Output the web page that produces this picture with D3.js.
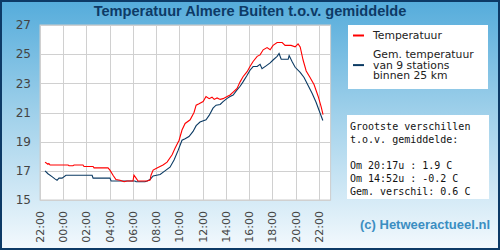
<!DOCTYPE html>
<html>
<head>
<meta charset="utf-8">
<script src="https://cdn.jsdelivr.net/npm/d3@7"></script>
<style>
  body { margin: 0; }
  svg { display: block; }
</style>
</head>
<body>
<div id="chart"></div>
<script>
"use strict";

// tijden (22:00 dag 1 -> 22:20 dag 2)
const redTimes = ["22:26","22:36","22:41","22:46","22:52","00:25","00:30","00:50","00:56","01:42","01:47","02:34","02:39","03:51","04:01","04:17","04:32","04:53","05:14","05:29","06:00","06:05","06:16","06:26","07:13","07:28","07:33","07:44","08:04","08:35","08:56","09:22","09:37","09:58","10:13","10:29","10:55","11:15","11:26","11:41","12:02","12:17","12:33","12:48","12:59","13:14","13:30","13:45","14:06","14:21","14:37","14:57","15:13","15:28","15:49","16:04","16:20","16:41","16:56","17:12","17:32","17:48","18:03","18:24","18:50","19:05","19:36","19:57","20:12","20:23","20:38","20:54","21:14","21:35","21:56","22:11","22:21"];
const redTemps = [17.6,17.5,17.45,17.5,17.4,17.4,17.35,17.35,17.4,17.4,17.3,17.3,17.2,17.2,17.05,16.7,16.4,16.35,16.25,16.3,16.3,16.7,16.5,16.3,16.3,16.37,16.7,17.05,17.2,17.4,17.6,18.1,18.55,19.1,19.8,20.25,20.5,21.0,21.5,21.6,21.75,22.1,21.95,22.05,21.9,22.0,21.9,21.95,22.1,22.2,22.4,22.65,23.1,23.45,23.8,24.15,24.5,24.85,24.95,25.3,25.45,25.3,25.6,25.8,25.8,25.6,25.6,25.5,25.7,25.5,24.6,23.85,23.4,22.9,22.1,21.4,20.85];

const blueTimes = ["22:26","22:41","23:02","23:17","23:28","23:38","23:54","00:14","02:29","02:34","04:01","04:07","06:10","06:16","07:02","07:13","07:28","07:44","08:20","08:45","09:11","09:32","09:53","10:13","10:29","10:49","11:10","11:26","11:46","12:17","12:33","12:53","13:09","13:30","13:45","14:06","14:21","14:37","14:57","15:13","15:28","15:49","16:04","16:20","16:41","16:56","17:06","17:27","17:48","18:03","18:24","18:34","18:45","19:21","19:26","19:41","19:57","20:23","20:43","21:04","21:25","21:45","22:06","22:20"];
const blueTemps = [17.0,16.8,16.6,16.45,16.35,16.5,16.5,16.7,16.7,16.5,16.5,16.3,16.3,16.25,16.25,16.3,16.4,16.65,16.75,17.0,17.25,17.75,18.4,19.1,19.2,19.35,19.7,20.1,20.35,20.5,20.8,21.3,21.5,21.55,21.75,21.97,22.1,22.2,22.55,22.8,23.1,23.55,23.9,24.15,24.15,24.3,24.0,24.2,24.4,24.6,24.85,25.05,24.65,24.65,24.9,24.5,24.1,23.75,23.4,22.85,22.3,21.7,20.95,20.45];

const yTicks = [15, 17, 19, 21, 23, 25, 27];

const titleText = "Temperatuur Almere Buiten t.o.v. gemiddelde";
const legendLabels = [["Temperatuur"], ["Gem. temperatuur", "van 9 stations", "binnen 25 km"]];
const statLines = ["Grootste verschillen", "t.o.v. gemiddelde:", "", "Om 20:17u : 1.9 C", "Om 14:52u : -0.2 C", "Gem. verschil: 0.6 C"];
const creditText = "(c) Hetweeractueel.nl";

const W = 500, H = 250;
const plot = {left: 40, right: 330.6, top: 25, bottom: 200};
const red = "#ff0000", navy = "#0b3a63";

// "HH:MM" -> Date, met overgang naar de volgende dag
const toDates = function(times) {
    let day = 1, prev = -1;
    return times.map(t => {
        let [h, m] = t.split(":").map(Number);
        let mins = h * 60 + m;
        if (prev >= 0 && mins < prev) day += 1;
        prev = mins;
        return new Date(Date.UTC(2024, 0, day, h, m));
    });
};

function _zip(a, b) { return a.map((d, i) => ({t: d, v: b[i]})); }
const redData = _zip(toDates(redTimes), redTemps);
const blueData = _zip(toDates(blueTimes), blueTemps);

const svg = d3.select('#chart').append('svg').attr('width', W).attr('height', H)
    .style('font-family', '"DejaVu Sans", sans-serif');

// achtergrond
const grad = svg.append('defs').append('linearGradient').attr('id', 'bg')
    .attr('x1', 0).attr('y1', 0).attr('x2', 0).attr('y2', 1);
grad.append('stop').attr('offset', '0%').attr('stop-color', '#55acdb');
grad.append('stop').attr('offset', '45%').attr('stop-color', '#9fd0ea');
grad.append('stop').attr('offset', '100%').attr('stop-color', '#f3f9fd');
svg.append('rect').attr('x', 1).attr('y', 1).attr('width', W - 2).attr('height', H - 2)
    .attr('fill', 'url(#bg)').attr('stroke', '#0d3a66').attr('stroke-width', 2);

svg.append('text').attr('x', 250).attr('y', 15.5).attr('text-anchor', 'middle')
    .style('font-family', '"Liberation Sans", Arial, sans-serif')
    .style('font-weight', 'bold').style('font-size', '14.6px').attr('fill', '#0d3a66')
    .text(titleText);

const x = d3.scaleUtc()
    .domain([new Date(Date.UTC(2024, 0, 1, 22)), new Date(Date.UTC(2024, 0, 2, 23))])
    .range([plot.left, plot.right]);
const y = d3.scaleLinear().domain([15, 27]).range([plot.bottom, plot.top]);

svg.append('rect').attr('x', plot.left).attr('y', plot.top)
    .attr('width', plot.right - plot.left).attr('height', plot.bottom - plot.top)
    .attr('fill', 'white').attr('stroke', '#cccccc');

const xTicks = x.ticks(d3.utcHour.every(2));
const grid = svg.append('g').attr('stroke', '#d0d0d0').attr('stroke-width', 1);
grid.selectAll('.vx').data(xTicks).enter().append('line')
    .attr('x1', d => Math.round(x(d)) + 0.5).attr('x2', d => Math.round(x(d)) + 0.5)
    .attr('y1', plot.top).attr('y2', plot.bottom);
grid.selectAll('.hy').data(yTicks).enter().append('line')
    .attr('x1', plot.left).attr('x2', plot.right)
    .attr('y1', d => Math.round(y(d)) + 0.5).attr('y2', d => Math.round(y(d)) + 0.5);

// as-labels
svg.append('g').selectAll('text').data(yTicks).enter().append('text')
    .attr('x', 31).attr('y', d => y(d)).attr('dy', '0.36em').attr('text-anchor', 'end')
    .style('font-size', '12px').attr('fill', '#444').text(d => d);

const fmt = d3.utcFormat('%H:%M');
svg.append('g').selectAll('text').data(xTicks).enter().append('text')
    .attr('transform', d => `translate(${x(d)},211) rotate(-90)`)
    .attr('dy', '0.36em').attr('text-anchor', 'end')
    .style('font-size', '11px').attr('fill', '#444').text(d => fmt(d));

// lijnen
const line = d3.line().x(d => x(d.t)).y(d => y(d.v));
svg.append('path').datum(blueData).attr('d', line).attr('fill', 'none')
    .attr('stroke', navy).attr('stroke-width', 1.1);
svg.append('path').datum(redData).attr('d', line).attr('fill', 'none')
    .attr('stroke', red).attr('stroke-width', 1.1);

// legenda
svg.append('rect').attr('x', 348).attr('y', 25).attr('width', 140).attr('height', 64).attr('fill', 'white');
const legY = [39, 58];
const legStep = 10.6;
legendLabels.forEach((lines, i) => {
    let mid = legY[i] - 3.5 + (lines.length - 1) * legStep / 2;
    svg.append('line').attr('x1', 353).attr('x2', 364).attr('y1', mid).attr('y2', mid)
        .attr('stroke', i === 0 ? red : navy).attr('stroke-width', 2);
    lines.forEach((t, j) => {
        svg.append('text').attr('x', 373).attr('y', legY[i] + j * legStep)
            .style('font-size', '10.8px').attr('fill', '#222').text(t);
    });
});

// statistiek
svg.append('rect').attr('x', 347).attr('y', 115).attr('width', 142).attr('height', 84).attr('fill', 'white');
svg.append('g').selectAll('text').data(statLines).enter().append('text')
    .attr('x', 350).attr('y', (d, i) => 129.5 + i * 13)
    .style('font-family', '"DejaVu Sans Mono", monospace').style('font-size', '10px')
    .attr('fill', '#111').attr('xml:space', 'preserve').text(d => d);

svg.append('text').attr('x', 360).attr('y', 229)
    .style('font-family', '"Liberation Sans", Arial, sans-serif')
    .style('font-weight', 'bold').style('font-size', '13px').attr('fill', '#3b8ec2')
    .text(creditText);
</script>
</body>
</html>
